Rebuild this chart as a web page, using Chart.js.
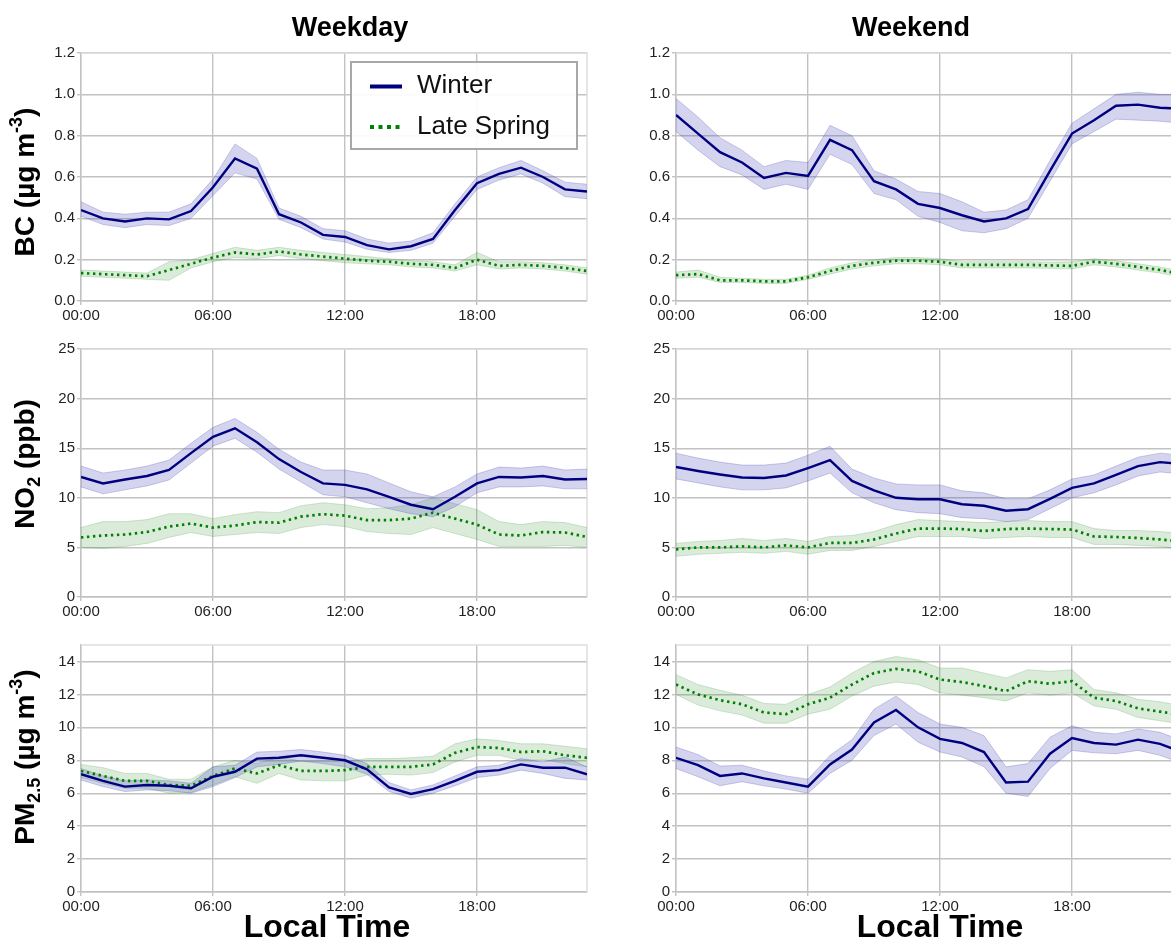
<!DOCTYPE html>
<html><head><meta charset="utf-8">
<script src="https://cdn.jsdelivr.net/npm/chart.js@4.4.1/dist/chart.umd.min.js"></script>
<style>
html,body{margin:0;padding:0;background:#fff;overflow:hidden;}
#wrap{position:relative;width:1171px;height:947px;overflow:hidden;background:#fff;}
#wrap canvas{position:absolute;}
</style></head><body><div id="wrap"></div>
<script>
// ---------- DATA ----------
const HOURS = [0,1,2,3,4,5,6,7,8,9,10,11,12,13,14,15,16,17,18,19,20,21,22,23];
const HOUR_TICKS = ['00:00','06:00','12:00','18:00'];
const SERIES_NAMES = ['Winter','Late Spring'];
const COLUMN_TITLES = ['Weekday','Weekend'];

// BC weekday
const BC_WD_WINTER    = [0.44,0.40,0.385,0.40,0.395,0.435,0.55,0.69,0.64,0.42,0.38,0.32,0.31,0.27,0.25,0.265,0.30,0.44,0.57,0.615,0.645,0.60,0.54,0.53];
const BC_WD_WINTER_HI = [0.48,0.43,0.42,0.43,0.43,0.47,0.59,0.76,0.69,0.45,0.41,0.35,0.34,0.30,0.28,0.29,0.33,0.47,0.60,0.645,0.68,0.63,0.575,0.565];
const BC_WD_WINTER_LO = [0.41,0.37,0.355,0.37,0.365,0.40,0.51,0.62,0.59,0.395,0.355,0.30,0.285,0.25,0.235,0.245,0.28,0.41,0.54,0.585,0.615,0.57,0.505,0.495];
const BC_WD_SPRING    = [0.135,0.13,0.125,0.12,0.15,0.18,0.21,0.235,0.225,0.24,0.225,0.215,0.205,0.195,0.19,0.18,0.175,0.16,0.20,0.17,0.175,0.17,0.16,0.145];
const BC_WD_SPRING_HI = [0.15,0.145,0.14,0.135,0.19,0.20,0.23,0.26,0.245,0.26,0.245,0.235,0.225,0.215,0.205,0.195,0.19,0.175,0.235,0.19,0.19,0.185,0.175,0.16];
const BC_WD_SPRING_LO = [0.12,0.115,0.11,0.105,0.10,0.16,0.19,0.21,0.205,0.22,0.205,0.195,0.185,0.18,0.175,0.165,0.16,0.145,0.175,0.155,0.16,0.155,0.145,0.13];
// BC weekend
const BC_WE_WINTER    = [0.90,0.81,0.72,0.67,0.595,0.62,0.605,0.78,0.73,0.58,0.54,0.47,0.45,0.415,0.385,0.40,0.445,0.63,0.81,0.875,0.945,0.95,0.935,0.93];
const BC_WE_WINTER_HI = [0.98,0.89,0.79,0.73,0.65,0.68,0.67,0.85,0.80,0.63,0.59,0.53,0.52,0.48,0.43,0.44,0.49,0.68,0.86,0.93,1.00,1.01,1.00,1.00];
const BC_WE_WINTER_LO = [0.82,0.73,0.65,0.61,0.54,0.565,0.54,0.71,0.66,0.52,0.49,0.41,0.38,0.34,0.33,0.35,0.40,0.58,0.76,0.82,0.88,0.875,0.87,0.86];
const BC_WE_SPRING    = [0.125,0.13,0.10,0.10,0.095,0.095,0.115,0.145,0.17,0.185,0.195,0.195,0.19,0.175,0.175,0.175,0.175,0.172,0.17,0.19,0.18,0.165,0.15,0.13];
const BC_WE_SPRING_HI = [0.14,0.15,0.115,0.11,0.105,0.105,0.125,0.16,0.185,0.20,0.21,0.21,0.205,0.19,0.19,0.19,0.19,0.188,0.19,0.205,0.195,0.18,0.165,0.145];
const BC_WE_SPRING_LO = [0.11,0.115,0.09,0.09,0.085,0.085,0.105,0.13,0.155,0.17,0.18,0.18,0.175,0.16,0.16,0.16,0.16,0.158,0.155,0.175,0.165,0.15,0.135,0.115];
// NO2 weekday
const NO2_WD_WINTER    = [12.1,11.45,11.85,12.2,12.8,14.5,16.15,17.0,15.6,13.9,12.6,11.45,11.3,10.85,10.1,9.3,8.85,10.1,11.45,12.1,12.05,12.2,11.85,11.9];
const NO2_WD_WINTER_HI = [13.2,12.5,12.8,13.2,13.8,15.5,17.1,18.0,16.6,14.9,13.6,12.8,12.8,12.4,11.5,10.6,10.1,11.1,12.4,13.1,13.0,13.2,12.8,12.9];
const NO2_WD_WINTER_LO = [11.1,10.4,10.8,11.2,11.8,13.5,15.2,16.0,14.6,12.9,11.6,10.3,10.1,9.5,8.9,8.4,8.1,9.1,10.5,11.1,11.1,11.2,10.9,10.9];
const NO2_WD_SPRING    = [6.0,6.2,6.3,6.55,7.1,7.4,7.0,7.2,7.55,7.5,8.1,8.35,8.2,7.75,7.75,7.9,8.5,7.9,7.3,6.3,6.2,6.55,6.5,6.05];
const NO2_WD_SPRING_HI = [7.0,7.6,7.6,7.8,8.4,8.4,7.9,8.3,8.6,8.5,9.2,9.5,9.3,8.9,9.0,9.3,10.0,9.4,8.8,7.6,7.3,7.6,7.5,7.0];
const NO2_WD_SPRING_LO = [5.0,4.9,5.1,5.4,6.0,6.5,6.1,6.3,6.5,6.4,7.0,7.3,7.1,6.6,6.4,6.3,7.0,6.4,5.8,5.1,5.1,5.1,5.2,5.0];
// NO2 weekend
const NO2_WE_WINTER    = [13.1,12.7,12.35,12.05,12.0,12.25,13.0,13.8,11.7,10.75,10.0,9.85,9.85,9.35,9.2,8.7,8.85,9.9,11.0,11.45,12.3,13.2,13.6,13.4];
const NO2_WE_WINTER_HI = [14.5,14.0,13.6,13.3,13.3,13.5,14.3,15.2,12.9,12.0,11.4,11.3,11.3,10.7,10.5,9.9,9.9,10.8,11.9,12.3,13.2,14.1,14.5,14.3];
const NO2_WE_WINTER_LO = [11.9,11.5,11.1,10.8,10.8,11.0,11.7,12.5,10.5,9.5,8.8,8.5,8.4,8.0,7.9,7.6,7.8,8.9,10.0,10.5,11.3,12.2,12.6,12.4];
const NO2_WE_SPRING    = [4.8,5.0,5.0,5.1,5.0,5.2,5.0,5.45,5.45,5.8,6.4,6.9,6.9,6.85,6.65,6.85,6.9,6.85,6.8,6.1,6.05,5.95,5.8,5.6];
const NO2_WE_SPRING_HI = [5.4,5.6,5.7,5.9,5.7,5.9,5.6,6.1,6.2,6.6,7.3,7.8,7.7,7.6,7.5,7.6,7.7,7.6,7.6,6.9,6.7,6.7,6.6,6.4];
const NO2_WE_SPRING_LO = [4.1,4.3,4.4,4.5,4.4,4.6,4.3,4.7,4.7,5.1,5.6,6.1,6.1,6.1,5.9,6.0,6.1,6.0,6.0,5.3,5.3,5.2,5.1,4.8];
// PM2.5 weekday
const PM_WD_WINTER    = [7.15,6.75,6.4,6.5,6.45,6.3,7.0,7.3,8.1,8.15,8.3,8.15,8.0,7.45,6.35,5.95,6.25,6.75,7.3,7.4,7.75,7.55,7.55,7.15];
const PM_WD_WINTER_HI = [7.5,7.05,6.75,6.8,6.75,6.6,7.6,7.7,8.5,8.55,8.65,8.5,8.3,7.8,6.65,6.2,6.5,7.05,7.6,7.7,8.1,7.9,8.2,7.6];
const PM_WD_WINTER_LO = [6.8,6.4,6.1,6.2,6.15,6.0,6.4,6.95,7.6,7.75,7.95,7.8,7.6,7.15,6.1,5.7,6.0,6.45,6.95,7.1,7.4,7.2,6.9,6.8];
const PM_WD_SPRING    = [7.35,7.05,6.75,6.75,6.5,6.45,7.05,7.5,7.2,7.7,7.35,7.35,7.4,7.6,7.6,7.6,7.75,8.45,8.8,8.75,8.5,8.55,8.3,8.15];
const PM_WD_SPRING_HI = [7.75,7.55,7.2,7.2,6.85,6.85,7.6,8.0,7.8,8.2,7.95,7.95,7.95,8.1,8.1,8.15,8.25,9.0,9.3,9.2,9.0,9.0,8.85,8.7];
const PM_WD_SPRING_LO = [6.95,6.6,6.3,6.3,6.0,6.05,6.5,7.0,6.6,7.2,6.8,6.75,6.75,7.1,7.15,7.1,7.25,7.9,8.3,8.3,8.0,8.05,7.8,7.6];
// PM2.5 weekend
const PM_WE_WINTER    = [8.15,7.7,7.05,7.2,6.9,6.65,6.4,7.75,8.65,10.3,11.05,10.0,9.3,9.05,8.5,6.65,6.7,8.4,9.35,9.05,8.95,9.25,9.0,8.5];
const PM_WE_WINTER_HI = [8.8,8.35,7.65,7.7,7.35,7.05,6.85,8.3,9.25,11.1,11.9,10.9,10.2,10.0,9.5,7.6,7.8,9.4,10.1,9.7,9.6,9.9,9.7,9.2];
const PM_WE_WINTER_LO = [7.5,7.0,6.45,6.7,6.45,6.25,6.0,7.2,8.0,9.5,10.2,9.1,8.5,8.2,7.6,6.0,5.8,7.5,8.6,8.45,8.4,8.6,8.3,7.8];
const PM_WE_SPRING    = [12.6,12.0,11.65,11.4,10.9,10.8,11.4,11.8,12.6,13.3,13.55,13.4,12.9,12.75,12.5,12.2,12.8,12.65,12.8,11.8,11.6,11.15,10.95,10.75];
const PM_WE_SPRING_HI = [13.2,12.6,12.25,11.95,11.45,11.4,12.0,12.45,13.3,14.0,14.3,14.1,13.6,13.6,13.3,13.0,13.5,13.4,13.5,12.3,12.1,11.7,11.55,11.3];
const PM_WE_SPRING_LO = [12.0,11.35,11.0,10.75,10.25,10.25,10.8,11.1,11.9,12.5,12.75,12.6,12.1,11.95,11.8,11.6,12.1,11.95,12.1,11.3,11.1,10.6,10.4,10.2];

const Y_MAX  = [1.2, 25, 15];
const Y_STEP = [0.2, 5, 2];
const Y_DECIMALS = [1, 0, 0];

// ---------- STYLE / LAYOUT ----------
const FONT = "'Liberation Sans', Arial, Helvetica, sans-serif";
const NAVY = '#000080';
const GREEN = '#008000';
const W_BAND = 'rgba(70,70,180,0.23)';
const W_EDGE = 'rgba(70,70,180,0.26)';
const S_BAND = 'rgba(60,150,60,0.19)';
const S_EDGE = 'rgba(60,150,60,0.22)';
const GRID = '#c2c2c2';

const COLS = [
  {x:0,   w:600, yw:81, padR:13, titleX:350, xlabX:327},
  {x:600, w:600, yw:76, padR:18, titleX:911, xlabX:940}
];
const ROWS = [
  {y:0,   h:330, padT:53, xh:29},
  {y:330, h:300, padT:19, xh:33},
  {y:630, h:317, padT:15, xh:55}
];
const YLABELS = [
  {cy:182, segs:[{t:'BC (µg m'},{t:'-3',sup:true},{t:')'}]},
  {cy:464, segs:[{t:'NO'},{t:'2',sub:true},{t:' (ppb)'}]},
  {cy:757, segs:[{t:'PM'},{t:'2.5',sub:true},{t:' (µg m'},{t:'-3',sup:true},{t:')'}]}
];

const PANELS = [
  {row:0,col:0,w:[BC_WD_WINTER,BC_WD_WINTER_LO,BC_WD_WINTER_HI],s:[BC_WD_SPRING,BC_WD_SPRING_LO,BC_WD_SPRING_HI]},
  {row:0,col:1,w:[BC_WE_WINTER,BC_WE_WINTER_LO,BC_WE_WINTER_HI],s:[BC_WE_SPRING,BC_WE_SPRING_LO,BC_WE_SPRING_HI]},
  {row:1,col:0,w:[NO2_WD_WINTER,NO2_WD_WINTER_LO,NO2_WD_WINTER_HI],s:[NO2_WD_SPRING,NO2_WD_SPRING_LO,NO2_WD_SPRING_HI]},
  {row:1,col:1,w:[NO2_WE_WINTER,NO2_WE_WINTER_LO,NO2_WE_WINTER_HI],s:[NO2_WE_SPRING,NO2_WE_SPRING_LO,NO2_WE_SPRING_HI]},
  {row:2,col:0,w:[PM_WD_WINTER,PM_WD_WINTER_LO,PM_WD_WINTER_HI],s:[PM_WD_SPRING,PM_WD_SPRING_LO,PM_WD_SPRING_HI]},
  {row:2,col:1,w:[PM_WE_WINTER,PM_WE_WINTER_LO,PM_WE_WINTER_HI],s:[PM_WE_SPRING,PM_WE_SPRING_LO,PM_WE_SPRING_HI]}
];

function drawRich(ctx, segs, bx, cy, size){
  ctx.save();
  ctx.translate(bx, cy);
  ctx.rotate(-Math.PI/2);
  const small = Math.round(size*0.66);
  let total = 0;
  const widths = segs.map(s => {
    ctx.font = `bold ${(s.sub||s.sup)?small:size}px ${FONT}`;
    const w = ctx.measureText(s.t).width; total += w; return w;
  });
  let x = -total/2;
  ctx.fillStyle = '#000';
  ctx.textBaseline = 'alphabetic';
  ctx.textAlign = 'left';
  segs.forEach((s,i) => {
    ctx.font = `bold ${(s.sub||s.sup)?small:size}px ${FONT}`;
    let y = 0;
    if (s.sub) y += size*0.2;
    if (s.sup) y -= size*0.42;
    ctx.fillText(s.t, x, y);
    x += widths[i];
  });
  ctx.restore();
}

const framePlugin = {
  id:'frame',
  beforeDatasetsDraw(chart){
    const {ctx, chartArea:a} = chart;
    ctx.save();
    ctx.strokeStyle = '#dedede'; ctx.lineWidth = 1.5;
    ctx.beginPath();
    ctx.moveTo(a.left, a.top); ctx.lineTo(a.right, a.top); ctx.lineTo(a.right, a.bottom);
    ctx.stroke();
    ctx.restore();
  }
};

const decoPlugin = {
  id:'deco',
  afterDraw(chart, args, opts){
    const ctx = chart.ctx;
    const {row, col} = opts;
    const C = COLS[col], R = ROWS[row];
    ctx.save();
    ctx.fillStyle = '#000';
    if (row === 0){
      ctx.font = `bold 27px ${FONT}`;
      ctx.textAlign = 'center'; ctx.textBaseline = 'middle';
      ctx.fillText(COLUMN_TITLES[col], C.titleX - C.x, 29 - R.y);
    }
    if (row === 2){
      ctx.font = `bold 32px ${FONT}`;
      ctx.textAlign = 'center'; ctx.textBaseline = 'middle';
      ctx.fillText('Local Time', C.xlabX - C.x, 928 - R.y);
    }
    if (col === 0){
      drawRich(ctx, YLABELS[row].segs, 34 - C.x, YLABELS[row].cy - R.y, 28);
    }
    if (row === 0 && col === 0){
      // legend
      const lx = 351, ly = 62, lw = 226, lh = 87;
      ctx.fillStyle = 'rgba(255,255,255,0.92)';
      ctx.fillRect(lx, ly, lw, lh);
      ctx.strokeStyle = '#a8a8a8'; ctx.lineWidth = 2;
      ctx.strokeRect(lx, ly, lw, lh);
      ctx.lineCap = 'butt';
      ctx.strokeStyle = NAVY; ctx.lineWidth = 4;
      ctx.beginPath(); ctx.moveTo(370, 86.5); ctx.lineTo(402, 86.5); ctx.stroke();
      ctx.strokeStyle = GREEN; ctx.setLineDash([4,4.5]);
      ctx.beginPath(); ctx.moveTo(370, 127); ctx.lineTo(402, 127); ctx.stroke();
      ctx.setLineDash([]);
      ctx.fillStyle = '#111';
      ctx.font = `26px ${FONT}`;
      ctx.textAlign = 'left'; ctx.textBaseline = 'middle';
      ctx.fillText(SERIES_NAMES[0], 417, 86);
      ctx.fillText(SERIES_NAMES[1], 417, 127);
    }
    ctx.restore();
  }
};

const wrap = document.getElementById('wrap');
const pts = arr => HOURS.map((h,i) => ({x:h, y:arr[i]}));

PANELS.forEach(p => {
  const C = COLS[p.col], R = ROWS[p.row];
  const cv = document.createElement('canvas');
  cv.width = C.w; cv.height = R.h;
  cv.style.left = C.x + 'px'; cv.style.top = R.y + 'px';
  cv.style.width = C.w + 'px'; cv.style.height = R.h + 'px';
  wrap.appendChild(cv);
  const dec = Y_DECIMALS[p.row];
  new Chart(cv, {
    type:'line',
    data:{datasets:[
      {label:SERIES_NAMES[0], data:pts(p.w[0]), borderColor:NAVY, borderWidth:2.4, pointRadius:0, fill:false, tension:0},
      {label:SERIES_NAMES[1], data:pts(p.s[0]), borderColor:GREEN, borderWidth:2.7, borderDash:[2.4,3.6], borderCapStyle:'butt', pointRadius:0, fill:false, tension:0},
      {label:'w_hi', data:pts(p.w[2]), borderColor:W_EDGE, borderWidth:1, pointRadius:0, fill:false},
      {label:'w_lo', data:pts(p.w[1]), borderColor:W_EDGE, borderWidth:1, pointRadius:0, fill:'-1', backgroundColor:W_BAND},
      {label:'s_hi', data:pts(p.s[2]), borderColor:S_EDGE, borderWidth:1, pointRadius:0, fill:false},
      {label:'s_lo', data:pts(p.s[1]), borderColor:S_EDGE, borderWidth:1, pointRadius:0, fill:'-1', backgroundColor:S_BAND}
    ]},
    options:{
      responsive:false, animation:false, devicePixelRatio:1,
      layout:{padding:{top:R.padT, right:C.padR, left:0, bottom:0}},
      plugins:{legend:{display:false}, tooltip:{enabled:false}, deco:{row:p.row, col:p.col}},
      scales:{
        x:{type:'linear', min:0, max:23,
           ticks:{stepSize:6, includeBounds:false, autoSkip:false, maxRotation:0, padding:2,
                  color:'#222', font:{family:FONT, size:15},
                  callback:(v) => HOUR_TICKS[Math.round(v/6)]},
           grid:{color:GRID, lineWidth:1.4, tickLength:4, drawTicks:true},
           border:{color:GRID, width:1.4},
           afterFit:(s) => { s.height = R.xh; s.paddingLeft = 0; s.paddingRight = 0; }},
        y:{min:0, max:Y_MAX[p.row],
           ticks:{stepSize:Y_STEP[p.row], includeBounds:false, padding:2,
                  color:'#222', font:{family:FONT, size:15},
                  callback:(v) => Number(v).toFixed(dec)},
           grid:{color:GRID, lineWidth:1.4, tickLength:4, drawTicks:true},
           border:{color:GRID, width:1.4},
           afterFit:(s) => { s.width = C.yw; s.paddingTop = 0; s.paddingBottom = 0; }}
      }
    },
    plugins:[framePlugin, decoPlugin]
  });
});
</script>
</body></html>
